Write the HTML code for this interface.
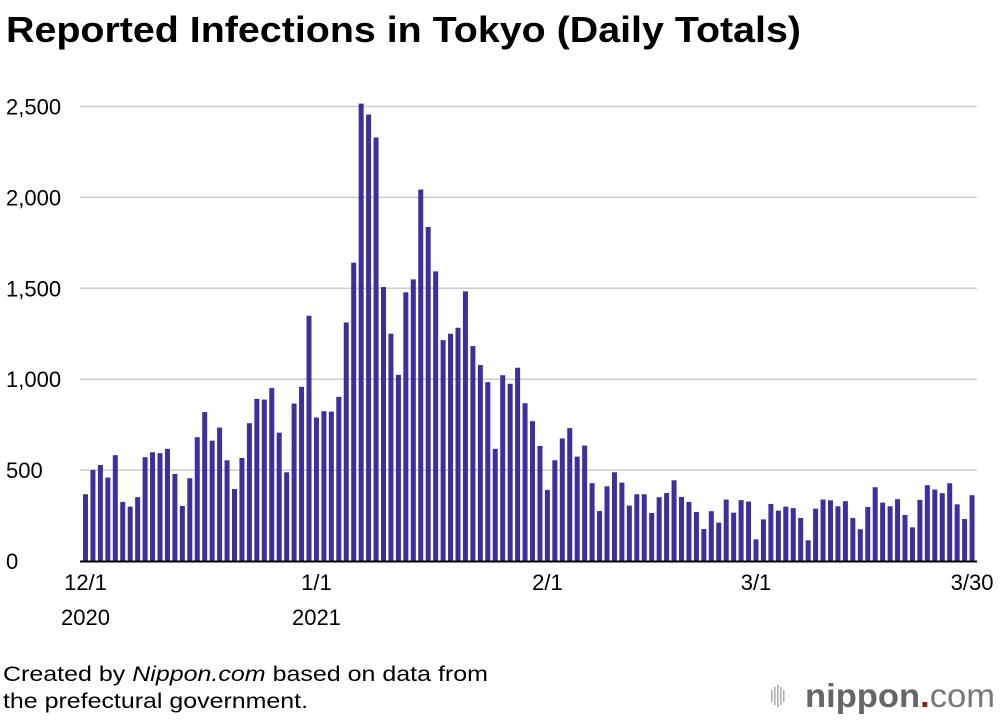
<!DOCTYPE html>
<html><head><meta charset="utf-8"><style>
body{margin:0;background:#fff;font-family:"Liberation Sans",Arial,sans-serif}
#wrap{position:relative;width:1000px;height:720px;overflow:hidden}
</style></head><body>
<div id="wrap">
<svg id="chart" width="1000" height="720">
<text x="6" y="42" font-size="36" font-weight="bold" fill="#000" textLength="795" lengthAdjust="spacingAndGlyphs">Reported Infections in Tokyo (Daily Totals)</text>
<g id="grid"></g><g id="bars"></g><g id="xlabels"></g>
<text x="3" y="681" font-size="21" fill="#000" textLength="485" lengthAdjust="spacingAndGlyphs">Created by <tspan font-style="italic">Nippon.com</tspan> based on data from</text>
<text x="3" y="708" font-size="21" fill="#000" textLength="305" lengthAdjust="spacingAndGlyphs">the prefectural government.</text>
<g>
<g fill="#aaa"><rect x="771" y="690" width="1.5" height="12"/><rect x="774" y="687" width="1.5" height="18"/><rect x="777" y="685" width="1.5" height="22"/><rect x="780" y="687" width="1.5" height="18"/><rect x="783" y="690" width="1.5" height="12"/></g>
<text x="805" y="707" font-size="33" font-weight="bold" fill="#666" textLength="190" lengthAdjust="spacingAndGlyphs">nippon<tspan fill="#8b1a1a">.</tspan><tspan font-weight="normal" fill="#777">com</tspan></text>
</g>
</svg>
</div>
<script>
const values=[367,501,528,459,582,325,299,351,571,598,593,617,479,303,455,681,819,662,734,554,396,567,758,892,888,951,706,488,866,958,1349,
789,824,822,903,1312,1641,2516,2456,2330,1507,1250,1024,1478,1549,2043,1837,1593,1215,1250,1283,1483,1182,1078,984,617,1022,975,1063,868,769,633,
391,554,674,731,574,635,428,275,411,488,431,305,367,367,264,351,374,444,352,325,270,176,274,211,338,266,335,327,
119,229,314,277,299,291,237,114,288,338,334,301,329,237,175,297,406,321,301,340,253,185,336,417,393,373,428,312,231,362];
const yTicks=[0,500,1000,1500,2000,2500];
const yTickLabels=["0","500","1,000","1,500","2,000","2,500"];
const xLabelIdx=[0,31,62,90,119];
const xLabels=["12/1","1/1","2/1","3/1","3/30"];
const yearIdx=[0,31];
const yearLabels=["2020","2021"];
const NS="http://www.w3.org/2000/svg";
const x0=83,step=7.45,bw=5,baseY=561,plotTop=106.5,maxV=2500,rightX=977;
const yScale=v=>baseY-(v/maxV)*(baseY-plotTop);
const xc=i=>x0+i*step+bw/2;
function mk(t,a,p){const e=document.createElementNS(NS,t);for(const k in a)e.setAttribute(k,a[k]);p.appendChild(e);return e;}
const grid=document.getElementById('grid');
yTicks.forEach((v,i)=>{
 if(v>0){const l=mk('line',{x1:80,x2:rightX,y1:yScale(v),y2:yScale(v),stroke:'#cccccc','stroke-width':1.5},grid);
 
 }
 const t=mk('text',{x:6,y:yScale(v)+8,'font-size':22,fill:'#000'},grid);t.textContent=yTickLabels[i];
 
 
});
const bars=document.getElementById('bars');
values.forEach((v,i)=>{
 const r=mk('rect',{x:x0+i*step,y:yScale(v),width:bw,height:baseY-yScale(v),fill:'#3d2f9c'},bars);
 
 
});
const ax=mk('line',{x1:80,x2:rightX,y1:baseY+0.5,y2:baseY+0.5,stroke:'#000','stroke-width':2},bars);


const xl=document.getElementById('xlabels');
xLabelIdx.forEach((d,i)=>{
 const t=mk('text',{x:xc(d),y:590,'font-size':22,'text-anchor':'middle',fill:'#000'},xl);t.textContent=xLabels[i];
 
 
});
yearIdx.forEach((d,i)=>{
 const t=mk('text',{x:xc(d),y:625,'font-size':22,'text-anchor':'middle',fill:'#000'},xl);t.textContent=yearLabels[i];
 
 
});
</script>
</body></html>
